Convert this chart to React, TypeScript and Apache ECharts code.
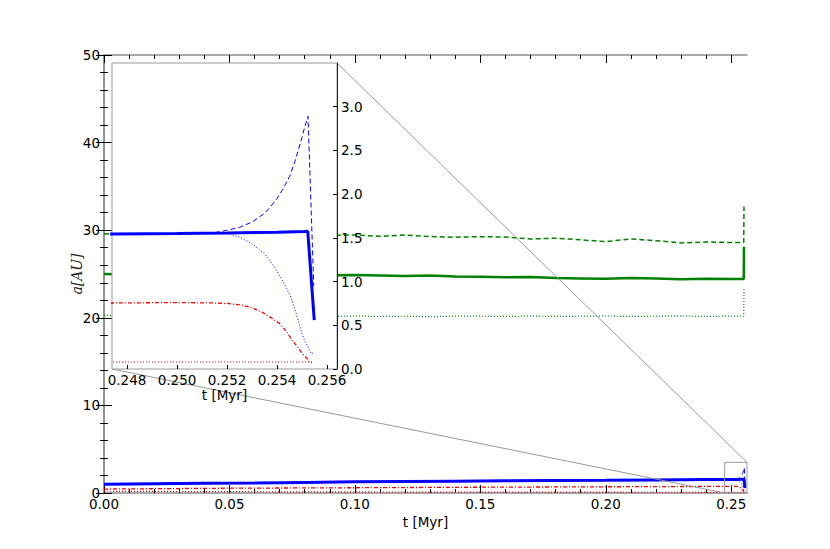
import React, { useEffect, useRef } from 'react';
import * as echarts from 'echarts';

// ---- axis ranges & ticks ----
const MAIN_XMAX = 0.2563;
const MAIN_YMAX = 50;
const INSET_XMIN = 0.2474;
const INSET_XMAX = 0.2564;
const INSET_YMAX = 3.5;
const mainXTicks = [0, 0.05, 0.1, 0.15, 0.2, 0.25];
const mainXMinorTicks = [0, 0.01, 0.02, 0.03, 0.04, 0.05, 0.06, 0.07, 0.08, 0.09, 0.1, 0.11, 0.12, 0.13, 0.14, 0.15, 0.16, 0.17, 0.18, 0.19, 0.2, 0.21, 0.22, 0.23, 0.24, 0.25];
const insetXTicks = [0.248, 0.25, 0.252, 0.254, 0.256];

// ---- blue planet ----
const blueSolidT = [0, 0.02, 0.04, 0.06, 0.08, 0.10, 0.12, 0.14, 0.16, 0.18, 0.20, 0.22, 0.24, 0.2475, 0.2500, 0.2520, 0.2540, 0.2551, 0.25523, 0.25549];
const blueSolidA = [1.00, 1.05, 1.10, 1.15, 1.21, 1.27, 1.31, 1.35, 1.39, 1.42, 1.45, 1.49, 1.53, 1.545, 1.55, 1.555, 1.565, 1.572, 1.575, 0.56];

const blueDashT = [0, 0.05, 0.10, 0.15, 0.20, 0.24, 0.2475, 0.2500, 0.2515, 0.2518, 0.2522, 0.2525, 0.2527, 0.2530, 0.2532, 0.2535, 0.2537, 0.2540, 0.2542, 0.2545, 0.2547, 0.2549, 0.2550, 0.2551, 0.25524, 0.25547];
const blueDashA = [1.00, 1.12, 1.27, 1.37, 1.45, 1.53, 1.545, 1.55, 1.56, 1.575, 1.60, 1.62, 1.645, 1.68, 1.72, 1.78, 1.84, 1.95, 2.04, 2.20, 2.36, 2.55, 2.65, 2.76, 2.89, 0.95];

const blueDotT = [0, 0.05, 0.10, 0.15, 0.20, 0.24, 0.2475, 0.2500, 0.2515, 0.2520, 0.2525, 0.2530, 0.2535, 0.2539, 0.2542, 0.2545, 0.2547, 0.2549, 0.2550, 0.2551, 0.2553, 0.25538, 0.25549];
const blueDotA = [1.00, 1.12, 1.27, 1.37, 1.45, 1.53, 1.545, 1.55, 1.555, 1.55, 1.51, 1.43, 1.32, 1.165, 1.02, 0.86, 0.70, 0.50, 0.40, 0.33, 0.22, 0.17, 0.20];

// ---- red planet ----
const redDashDotT = [0, 0.05, 0.10, 0.15, 0.20, 0.2475, 0.2500, 0.2515, 0.2520, 0.2526, 0.2530, 0.2534, 0.2538, 0.2541, 0.2544, 0.2546, 0.2548, 0.2550, 0.2552, 0.2553, 0.2554];
const redDashDotA = [0.45, 0.55, 0.60, 0.66, 0.71, 0.755, 0.76, 0.755, 0.75, 0.73, 0.70, 0.65, 0.58, 0.52, 0.42, 0.33, 0.26, 0.18, 0.12, 0.08, 0.07];

const redDotT = [0, 0.05, 0.10, 0.15, 0.20, 0.2475, 0.2554];
const redDotA = [0.20, 0.15, 0.12, 0.10, 0.09, 0.08, 0.08];

// ---- green planet ----
const greenT = [0, 0.01, 0.02, 0.03, 0.04, 0.05, 0.06, 0.07, 0.08, 0.09, 0.10, 0.11, 0.12, 0.13, 0.14, 0.15, 0.16, 0.17, 0.18, 0.19, 0.20, 0.21, 0.22, 0.23, 0.24, 0.25, 0.2550, 0.2551];
const greenSolidA = [25.0, 24.95, 24.98, 24.92, 24.95, 24.88, 24.92, 24.85, 24.9, 24.86, 24.89, 24.84, 24.78, 24.82, 24.72, 24.7, 24.62, 24.66, 24.55, 24.5, 24.45, 24.55, 24.48, 24.4, 24.46, 24.42, 24.42, 28.1];
const greenDashA = [29.6, 29.5, 29.6, 29.45, 29.55, 29.4, 29.5, 29.38, 29.48, 29.4, 29.45, 29.3, 29.45, 29.28, 29.2, 29.26, 29.22, 29.0, 29.08, 28.9, 28.7, 29.0, 28.8, 28.55, 28.65, 28.6, 28.6, 32.7];
const greenDotA = [20.3, 20.25, 20.3, 20.22, 20.28, 20.2, 20.25, 20.18, 20.22, 20.15, 20.2, 20.15, 20.18, 20.12, 20.2, 20.18, 20.15, 20.2, 20.15, 20.18, 20.2, 20.15, 20.18, 20.2, 20.15, 20.2, 20.2, 23.4];

const zip = (t: number[], a: number[]) => t.map((v, i) => [v, a[i]]);

const BLUE = '#0000ff';
const RED = '#ff0000';
const GREEN = '#008000';
const SPINE = '#8c8c8c';
const font = { fontFamily: 'DejaVu Sans', fontSize: 13.5, color: '#000' };

type Sty = { color: string; width: number; type: any };
const seriesDefs: { name: string; data: number[][]; style: Sty; inset: boolean }[] = [
  { name: 'greenDot', data: zip(greenT, greenDotA), style: { color: GREEN, width: 1.2, type: [1, 2] }, inset: false },
  { name: 'greenDash', data: zip(greenT, greenDashA), style: { color: GREEN, width: 1.5, type: [5, 3] }, inset: false },
  { name: 'greenSolid', data: zip(greenT, greenSolidA), style: { color: GREEN, width: 2.5, type: 'solid' }, inset: false },
  { name: 'redDot', data: zip(redDotT, redDotA), style: { color: RED, width: 1.2, type: [1, 2] }, inset: true },
  { name: 'redDashDot', data: zip(redDashDotT, redDashDotA), style: { color: RED, width: 1.3, type: [4, 2, 1, 2] }, inset: true },
  { name: 'blueDot', data: zip(blueDotT, blueDotA), style: { color: BLUE, width: 1, type: [1, 2] }, inset: true },
  { name: 'blueDash', data: zip(blueDashT, blueDashA), style: { color: BLUE, width: 1, type: [5, 3] }, inset: true },
  { name: 'blueSolid', data: zip(blueSolidT, blueSolidA), style: { color: BLUE, width: 3, type: 'solid' }, inset: true },
];

export default function App() {
  const ref = useRef<HTMLDivElement>(null);
  useEffect(() => {
    if (!ref.current) return;
    const chart = echarts.init(ref.current, null, { renderer: 'svg' });

    const series: any[] = [];
    seriesDefs.forEach((d) => {
      series.push({
        type: 'line', name: d.name, data: d.data, xAxisIndex: 0, yAxisIndex: 0,
        showSymbol: false, symbol: 'none', lineStyle: d.style, z: 2, clip: true,
      });
    });
    seriesDefs.filter((d) => d.inset).forEach((d) => {
      series.push({
        type: 'line', name: d.name + 'Inset', data: d.data, xAxisIndex: 4, yAxisIndex: 2,
        showSymbol: false, symbol: 'none', lineStyle: d.style, z: 6, clip: true,
      });
    });

    const baseX = { type: 'value', splitLine: { show: false } };
    const option: any = {
      animation: false,
      backgroundColor: '#fff',
      grid: [
        { left: 104, top: 55, width: 643, height: 438, show: false },
        { left: 112, top: 63, width: 225, height: 306, show: true, backgroundColor: '#fff', borderColor: '#999', borderWidth: 1, z: 5 },
      ],
      xAxis: [
        {
          ...baseX, gridIndex: 0, position: 'bottom', min: 0, max: MAIN_XMAX,
          axisLine: { show: true, lineStyle: { color: SPINE, width: 1.5 } },
          axisTick: { show: true, inside: true, length: 8, customValues: mainXTicks, lineStyle: { color: '#000' } },
          axisLabel: { show: true, customValues: mainXTicks, formatter: (v: number) => v.toFixed(2), margin: 4, ...font },
          name: 't [Myr]', nameLocation: 'middle', nameGap: 22, nameMoveOverlap: false, nameTextStyle: { ...font },
        },
        {
          ...baseX, gridIndex: 0, position: 'bottom', min: 0, max: MAIN_XMAX,
          axisLine: { show: false },
          axisTick: { show: true, inside: true, length: 4, customValues: mainXMinorTicks, lineStyle: { color: '#000' } },
          axisLabel: { show: false },
        },
        {
          ...baseX, gridIndex: 0, position: 'top', min: 0, max: MAIN_XMAX,
          axisLine: { show: true, lineStyle: { color: SPINE, width: 1.5 } },
          axisTick: { show: true, inside: true, length: 8, customValues: mainXTicks, lineStyle: { color: '#000' } },
          axisLabel: { show: false },
        },
        {
          ...baseX, gridIndex: 0, position: 'top', min: 0, max: MAIN_XMAX,
          axisLine: { show: false },
          axisTick: { show: true, inside: true, length: 4, customValues: mainXMinorTicks, lineStyle: { color: '#000' } },
          axisLabel: { show: false },
        },
        {
          ...baseX, gridIndex: 1, position: 'bottom', min: INSET_XMIN, max: INSET_XMAX, z: 7,
          axisLine: { show: false },
          axisTick: { show: true, inside: true, length: 4, customValues: insetXTicks, lineStyle: { color: '#000' } },
          axisLabel: { show: true, customValues: insetXTicks, formatter: (v: number) => v.toFixed(3), margin: 4, ...font },
          name: 't [Myr]', nameLocation: 'middle', nameGap: 19, nameMoveOverlap: false, nameTextStyle: { ...font },
        },
      ],
      yAxis: [
        {
          type: 'value', gridIndex: 0, position: 'left', min: 0, max: MAIN_YMAX, interval: 10,
          splitLine: { show: false },
          axisLine: { show: true, lineStyle: { color: SPINE, width: 1.5 } },
          axisTick: { show: true, inside: true, length: 8, lineStyle: { color: '#000' } },
          minorTick: { show: true, splitNumber: 5, length: 4, lineStyle: { color: '#000' } },
          axisLabel: { show: true, margin: 4, formatter: (v: number) => String(v), ...font },
          name: 'a[AU]', nameLocation: 'middle', nameGap: 20, nameMoveOverlap: false,
          nameTextStyle: { fontFamily: 'DejaVu Serif', fontStyle: 'italic', fontSize: 14, color: '#222' },
        },
        {
          type: 'value', gridIndex: 0, position: 'right', min: 0, max: MAIN_YMAX, interval: 10,
          splitLine: { show: false },
          axisLine: { show: true, lineStyle: { color: SPINE, width: 1.5 } },
          axisTick: { show: true, inside: true, length: 8, lineStyle: { color: '#000' } },
          minorTick: { show: true, splitNumber: 5, length: 4, lineStyle: { color: '#000' } },
          axisLabel: { show: false },
        },
        {
          type: 'value', gridIndex: 1, position: 'right', min: 0, max: INSET_YMAX, interval: 0.5, z: 7,
          splitLine: { show: false },
          axisLine: { show: true, lineStyle: { color: '#222', width: 1 } },
          axisTick: { show: true, inside: true, length: 4, lineStyle: { color: '#000' } },
          axisLabel: { show: true, margin: 4, showMaxLabel: false, formatter: (v: number) => v.toFixed(1), ...font },
        },
      ],
      series,
    };
    chart.setOption(option);

    const mainIdx = 0;
    const insetIdx = seriesDefs.length;
    const insetTR = chart.convertToPixel({ seriesIndex: insetIdx }, [INSET_XMAX, INSET_YMAX]) as number[];
    const insetBL = chart.convertToPixel({ seriesIndex: insetIdx }, [INSET_XMIN, 0]) as number[];
    const rectTR = chart.convertToPixel({ seriesIndex: mainIdx }, [Math.min(INSET_XMAX, MAIN_XMAX), INSET_YMAX]) as number[];
    const rectBL = chart.convertToPixel({ seriesIndex: mainIdx }, [INSET_XMIN, 0]) as number[];
    if (insetTR && insetBL && rectTR && rectBL) {
      const ls = { stroke: '#999', lineWidth: 1, fill: 'none' };
      chart.setOption({
        graphic: {
          elements: [
            { type: 'rect', z: 4, silent: true, shape: { x: rectBL[0], y: rectTR[1], width: rectTR[0] - rectBL[0], height: rectBL[1] - rectTR[1] }, style: ls },
            { type: 'line', z: 4, silent: true, shape: { x1: insetTR[0], y1: insetTR[1], x2: rectTR[0], y2: rectTR[1] }, style: ls },
            { type: 'line', z: 4, silent: true, shape: { x1: insetBL[0], y1: insetBL[1], x2: rectBL[0], y2: rectBL[1] }, style: ls },
          ],
        },
      });
    }
    return () => chart.dispose();
  }, []);
  return <div ref={ref} style={{ position: 'fixed', left: 0, top: 0, width: 830, height: 549 }} />;
}
